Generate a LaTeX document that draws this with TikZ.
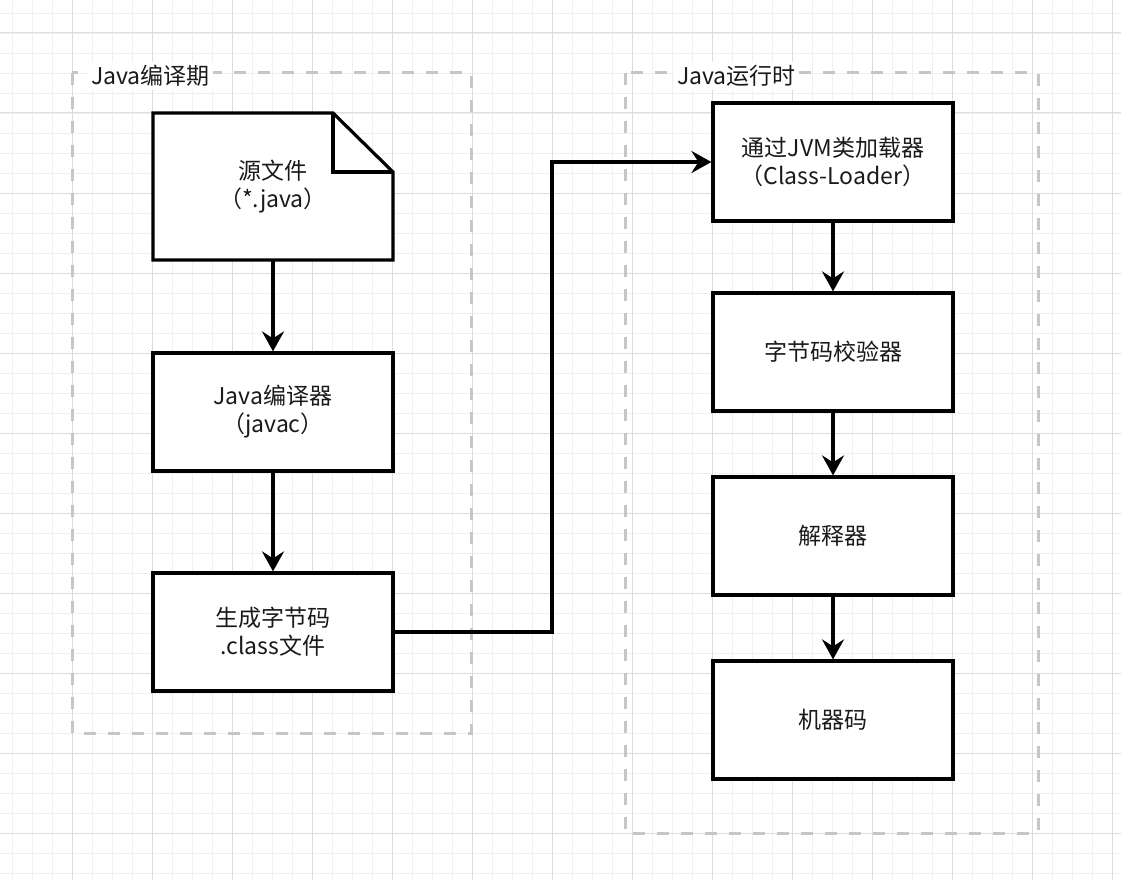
\documentclass[tikz,border=0pt]{standalone}
\usepackage{fontspec}
\setmainfont{Noto Sans CJK SC}
\usetikzlibrary{arrows.meta}
\definecolor{gridminor}{HTML}{F0F0F0}
\definecolor{gridmajor}{HTML}{DDDDDD}
\definecolor{dashgray}{HTML}{C6C6C6}
\definecolor{txt}{HTML}{1A1A1A}
\begin{document}
\begin{tikzpicture}[x=1pt,y=-1pt,
  box/.style={draw=black,line width=3.2pt,fill=white,rectangle,minimum width=240pt,minimum height=118pt,inner sep=0pt,align=center,text=txt,font=\fontsize{23}{28}\selectfont},
  plain/.style={rectangle,inner sep=0pt,align=center,text=txt,font=\fontsize{23}{28}\selectfont},
  arr/.style={line width=3.2pt,-{Stealth[length=20pt,width=22pt,inset=7pt]}},
  group/.style={draw=dashgray,line width=3pt,dash pattern=on 12pt off 12pt},
  grouplabel/.style={fill=white,inner sep=3pt,anchor=west,text=txt,font=\fontsize{23}{26}\selectfont}]
\useasboundingbox (0,0) rectangle (1121,880);
\fill[white] (0,0) rectangle (1121,880);
% grid
\foreach \x in {12,32,...,1120} \draw[gridminor,line width=0.8pt] (\x,0) -- (\x,880);
\foreach \y in {13,33,...,879} \draw[gridminor,line width=0.8pt] (0,\y) -- (1121,\y);
\foreach \x in {72,152,...,1120} \draw[gridmajor,line width=1pt] (\x,0) -- (\x,880);
\foreach \y in {33,113,...,879} \draw[gridmajor,line width=1pt] (0,\y) -- (1121,\y);
% containers
\draw[group] (72,73) rectangle (471,733);
\draw[group] (625,73) rectangle (1038,833);
\node[grouplabel] (lblc) at (88,76) {Java编译期};
\node[grouplabel] (lblr) at (674,76) {Java运行时};
% source document
\filldraw[fill=white,draw=black,line width=3.2pt,line join=miter] (153,113) -- (333,113) -- (393,172) -- (393,260) -- (153,260) -- cycle;
\draw[line width=3.2pt,line join=miter] (333,113) -- (333,172) -- (393,172);
\node[plain,minimum width=240pt,minimum height=147pt] (src) at (273,186.5) {源文件\\（*.java）};
% left boxes
\node[box] (javac) at (273,412) {Java编译器\\（javac）};
\node[box] (gen) at (273,632) {生成字节码\\.class文件};
% right boxes
\node[box] (cl) at (833,162) {通过JVM类加载器\\（Class-Loader）};
\node[box] (bv) at (833,352) {字节码校验器};
\node[box] (interp) at (833,536) {解释器};
\node[box] (mc) at (833,720) {机器码};
% connectors
\draw[arr] (src.south) -- (javac.north);
\draw[arr] (javac.south) -- (gen.north);
\coordinate (bend) at (552,632);
\draw[arr,line join=miter] (gen.east) -- (bend) |- (cl.west);
\draw[arr] (cl.south) -- (bv.north);
\draw[arr] (bv.south) -- (interp.north);
\draw[arr] (interp.south) -- (mc.north);
\end{tikzpicture}
\end{document}
